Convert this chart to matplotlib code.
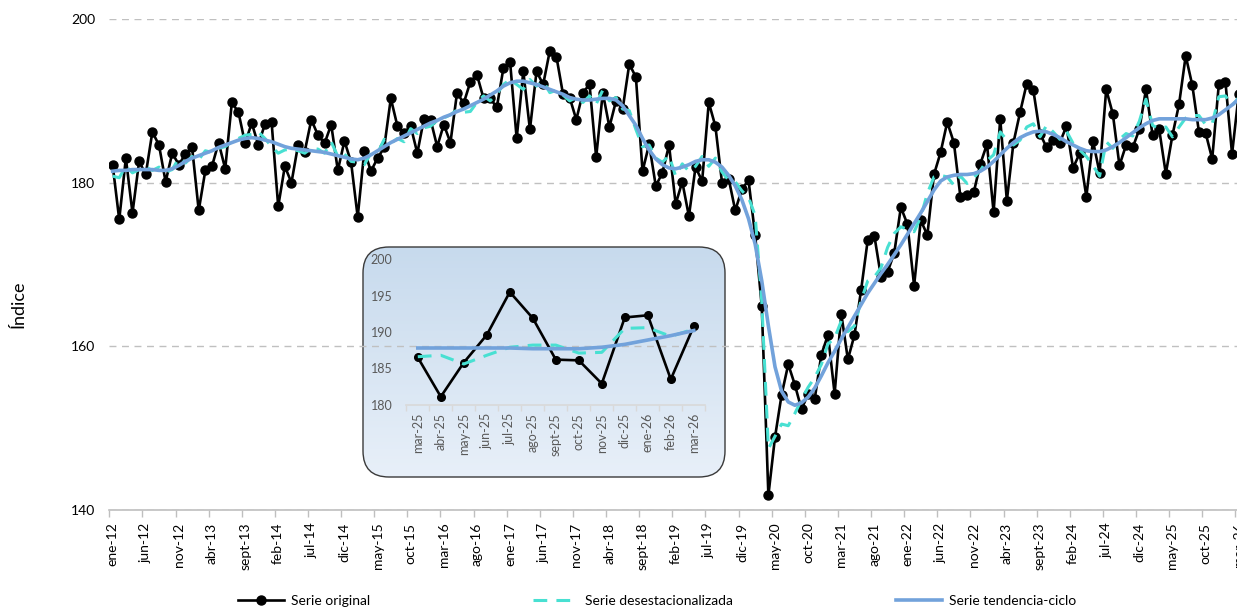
import numpy as np
import matplotlib.pyplot as plt
from matplotlib.patches import FancyBboxPatch
from matplotlib.lines import Line2D

plt.rcParams['font.family'] = ['Lato', 'DejaVu Sans']

# Meses (ene-12 ... mar-26)
meses = ["ene", "feb", "mar", "abr", "may", "jun", "jul", "ago", "sept", "oct", "nov", "dic"]
periodos = [f"{meses[k % 12]}-{12 + k // 12}" for k in range(171)]

# Serie original
serie_original = [
    182.2, 175.5, 183.0, 176.3, 182.6, 181.0, 186.2, 184.6, 180.1, 183.6, 182.2, 183.5,
    184.3, 176.6, 181.5, 182.0, 184.9, 181.7, 189.8, 188.6, 184.8, 187.3, 184.6, 187.2,
    187.4, 177.1, 182.0, 180.0, 184.6, 183.8, 187.7, 185.8, 184.8, 187.1, 181.5, 185.1,
    182.5, 175.8, 183.9, 181.4, 183.0, 184.3, 190.3, 186.9, 186.1, 186.9, 183.6, 187.8,
    187.7, 184.4, 187.1, 184.9, 191.0, 189.7, 192.3, 193.2, 190.3, 190.3, 189.2, 194.0,
    194.8, 185.4, 193.6, 186.5, 193.6, 192.0, 196.1, 195.4, 190.8, 190.4, 187.7, 191.0,
    192.0, 183.1, 191.0, 186.8, 190.0, 189.0, 194.5, 192.9, 181.4, 184.7, 179.6, 181.2,
    184.6, 177.4, 180.1, 175.9, 181.9, 180.2, 189.8, 186.9, 180.0, 180.5, 176.6, 179.2,
    180.3, 173.6, 164.9, 141.8, 148.9, 154.1, 157.8, 155.3, 152.3, 154.2, 153.6, 159.0,
    161.4, 154.2, 164.0, 158.4, 161.4, 166.9, 173.0, 173.5, 168.5, 169.1, 171.4, 177.0,
    174.9, 167.4, 175.4, 173.6, 181.0, 183.7, 187.4, 184.9, 178.2, 178.5, 178.8, 182.3,
    184.7, 176.4, 187.8, 177.8, 184.9, 188.6, 192.1, 191.3, 186.0, 184.3, 185.2, 184.9,
    186.9, 181.8, 183.6, 178.3, 185.1, 181.2, 191.4, 188.4, 182.1, 184.6, 184.3, 186.5,
    191.4, 185.8, 186.5, 181.1, 185.8, 189.6, 195.5, 191.9, 186.2, 186.1, 182.9, 192.0,
    192.3, 183.5, 190.8,
]

# Serie desestacionalizada
serie_desest = [
    180.8, 180.6, 182.0, 181.2, 181.6, 181.9, 181.5, 181.9, 181.3, 181.6, 183.0, 182.4,
    183.2, 182.8, 183.9, 183.7, 184.2, 184.4, 185.0, 185.4, 185.8, 185.9, 186.2, 185.4,
    184.4, 183.6, 184.0, 184.1, 183.9, 183.6, 184.2, 184.1, 183.6, 185.0, 183.2, 183.5,
    182.6, 182.5, 182.2, 183.6, 183.6, 185.3, 184.8, 185.4, 185.0, 186.6, 186.0, 186.7,
    186.9, 187.6, 187.9, 188.3, 188.9, 188.6, 188.7, 189.8, 190.6, 190.0, 190.8, 192.0,
    192.6, 192.0, 191.4, 192.6, 191.8, 192.4, 191.0, 191.3, 190.7, 190.0, 190.4, 189.8,
    190.6, 189.6, 191.3, 190.0, 190.4, 189.0, 188.8, 186.5, 184.4, 184.6, 183.0, 182.5,
    183.3, 180.8, 182.3, 181.4, 182.0, 183.2, 182.0, 183.0, 181.3, 180.3, 180.1, 179.0,
    178.2, 176.0, 165.5, 147.5, 149.0, 150.5, 150.3, 151.8, 153.5, 155.0, 156.2, 157.8,
    160.3, 161.0, 163.1, 161.8, 162.5, 165.6, 168.0, 168.5, 169.6, 172.1, 173.8, 174.6,
    174.3, 174.0, 175.8, 178.7, 180.7, 180.9, 180.7, 179.7, 180.8, 179.9, 180.6, 181.5,
    182.7, 183.4, 186.2, 185.2, 184.6, 185.2, 186.8, 187.2, 185.6, 187.0, 186.2, 185.3,
    186.3, 184.8, 184.0, 183.2, 182.1, 180.8, 185.0, 184.2, 185.3, 186.0, 185.7, 187.5,
    190.2, 187.0, 186.6, 186.8, 185.6, 186.8, 187.9, 188.2, 188.2, 187.1, 187.2, 190.5,
    190.6, 189.4, 190.4,
]

# Serie tendencia-ciclo
serie_tendencia = [
    181.4, 181.5, 181.5, 181.6, 181.6, 181.6, 181.6, 181.5, 181.5, 181.7, 182.1, 182.6,
    183.0, 183.3, 183.6, 183.9, 184.3, 184.6, 184.9, 185.2, 185.4, 185.5, 185.4, 185.2,
    185.0, 184.7, 184.4, 184.2, 184.1, 184.0, 183.9, 183.8, 183.7, 183.5, 183.3, 183.1,
    182.9, 182.8, 183.0, 183.4, 183.9, 184.4, 184.9, 185.3, 185.7, 186.1, 186.5, 186.9,
    187.3, 187.6, 188.0, 188.3, 188.7, 189.0, 189.4, 189.8, 190.2, 190.7, 191.2, 191.8,
    192.2, 192.4, 192.4, 192.2, 192.0, 191.7, 191.4, 191.1, 190.8, 190.4, 190.2, 190.1,
    190.1, 190.2, 190.3, 190.3, 190.1, 189.4, 188.2, 187.0, 185.4, 184.0, 182.9, 182.2,
    181.8, 181.7, 181.9, 182.2, 182.6, 182.8, 182.8, 182.5, 181.9, 180.9, 179.6, 177.9,
    175.6, 172.5, 168.0, 162.5, 157.5, 154.5, 153.2, 152.8, 153.1, 153.8, 154.9, 156.4,
    158.0, 159.4, 160.9, 162.3, 163.7, 165.1, 166.5, 167.7, 168.9, 170.0, 171.2, 172.4,
    173.7, 175.0, 176.3, 177.7, 179.1, 180.2, 180.7, 180.9, 181.0, 181.0, 181.1, 181.4,
    181.9, 182.6, 183.4, 184.2, 184.9, 185.5, 185.9, 186.2, 186.3, 186.2, 185.9, 185.5,
    185.0, 184.6, 184.2, 183.9, 183.8, 183.8, 184.0, 184.4, 184.9, 185.5, 186.1, 186.7,
    187.2, 187.6, 187.8, 187.8, 187.8, 187.8, 187.8, 187.7, 187.7, 187.7, 187.9, 188.3,
    188.9, 189.5, 190.2,
]

n_inset = 13  # mar-25 ... mar-26

c_orig = "black"
c_desest = "#48e0d2"
c_tend = "#72a2db"

W, H = 1237, 610
fig = plt.figure(figsize=(W / 100, H / 100), dpi=100)
fig.patch.set_facecolor("white")

def fig_box(x0, y0, x1, y1):
    # pixel box -> figure fraction
    return [x0 / W, 1 - y1 / H, (x1 - x0) / W, (y1 - y0) / H]

# Fondo del recuadro (gradiente con esquinas redondeadas)
ax_box = fig.add_axes(fig_box(362, 246, 726, 478), zorder=1)
bw, bh = 364, 232
ax_box.set_xlim(0, bw)
ax_box.set_ylim(0, bh)
ax_box.axis("off")
grad = np.linspace(0, 1, 256).reshape(-1, 1)
top = np.array([0.78, 0.855, 0.93])
bot = np.array([0.91, 0.94, 0.975])
img = top + (bot - top) * grad[:, :, None]
im = ax_box.imshow(img, extent=(0, bw, 0, bh), aspect="auto", origin="upper")
frame = FancyBboxPatch((1, 1), bw - 2, bh - 2, boxstyle="round,pad=0,rounding_size=26",
                       fc="none", ec="#3a3a3a", lw=1.0)
ax_box.add_patch(frame)
im.set_clip_path(frame)

# Grafico principal
ax = fig.add_axes(fig_box(109.3, 19, 1242, 510), zorder=2)
ax.set_facecolor("none")
x = np.arange(len(serie_original))
ax.plot(x, serie_original, color=c_orig, lw=1.9, marker="o", ms=6.5, zorder=3)
ax.plot(x, serie_desest, color=c_desest, lw=2.2, dashes=(4.5, 3), zorder=4)
ax.plot(x, serie_tendencia, color=c_tend, lw=2.6, zorder=5)

ax.set_xlim(-0.5, len(x) - 0.5)
ax.set_ylim(140, 200)
ax.set_yticks([140, 160, 180, 200])
ax.yaxis.grid(True, color="#c0c0c0", linestyle=(0, (5, 4)), lw=1.0)
ax.set_axisbelow(True)
for s in ["top", "right", "left"]:
    ax.spines[s].set_visible(False)
ax.spines["bottom"].set_color("#bfbfbf")
ax.spines["bottom"].set_linewidth(1.2)
ax.tick_params(axis="y", length=0, pad=10, labelsize=10)
ax.set_xticks(x[::5])
ax.set_xticklabels(periodos[::5], rotation=90)
ax.set_xticks(np.arange(-0.5, len(x), 5), minor=True)
ax.tick_params(axis="x", which="major", length=0, pad=9, labelsize=10)
ax.tick_params(axis="x", which="minor", length=5, color="#bfbfbf", width=1)
ax.set_ylabel("Índice", fontsize=13)
ax.yaxis.set_label_coords(-0.073, 0.42)

# Recuadro: ultimos 13 meses
axi = fig.add_axes(fig_box(406.3, 259.3, 705.3, 404.7), zorder=3)
axi.set_facecolor("none")
xi = np.arange(n_inset)
axi.plot(xi, serie_original[-n_inset:], color=c_orig, lw=1.9, marker="o", ms=5.5, zorder=3)
axi.plot(xi, serie_desest[-n_inset:], color=c_desest, lw=2.2, dashes=(4.5, 3), zorder=4)
axi.plot(xi, serie_tendencia[-n_inset:], color=c_tend, lw=2.6, zorder=5)
axi.set_xlim(-0.5, n_inset - 0.5)
axi.set_ylim(180, 200)
axi.set_yticks([180, 185, 190, 195, 200])
for s in ["top", "right", "left"]:
    axi.spines[s].set_visible(False)
axi.spines["bottom"].set_color("#d9d9d9")
axi.spines["bottom"].set_linewidth(1.2)
axi.set_xticks(xi)
axi.set_xticklabels(periodos[-n_inset:], rotation=90)
axi.set_xticks(np.arange(-0.5, n_inset, 1), minor=True)
axi.tick_params(axis="x", which="major", length=0, pad=6, labelsize=9, labelcolor="#595959")
axi.tick_params(axis="x", which="minor", length=4, color="#d9d9d9", width=1)
axi.tick_params(axis="y", length=0, pad=10, labelsize=9, labelcolor="#595959")

# Leyenda
handles = [
    Line2D([], [], color=c_orig, lw=1.9, marker="o", ms=6.5),
    Line2D([], [], color=c_desest, lw=2.2, dashes=(4.5, 3)),
    Line2D([], [], color=c_tend, lw=2.6),
]
labels = ["Serie original", "Serie desestacionalizada", "Serie tendencia-ciclo"]
fig.legend(handles, labels, loc="center", bbox_to_anchor=(657 / W, 1 - 601 / H), ncol=3,
           frameon=False, fontsize=10, handlelength=3.3, handletextpad=0.5, columnspacing=11.7)

fig.savefig("out.png", dpi=100)
